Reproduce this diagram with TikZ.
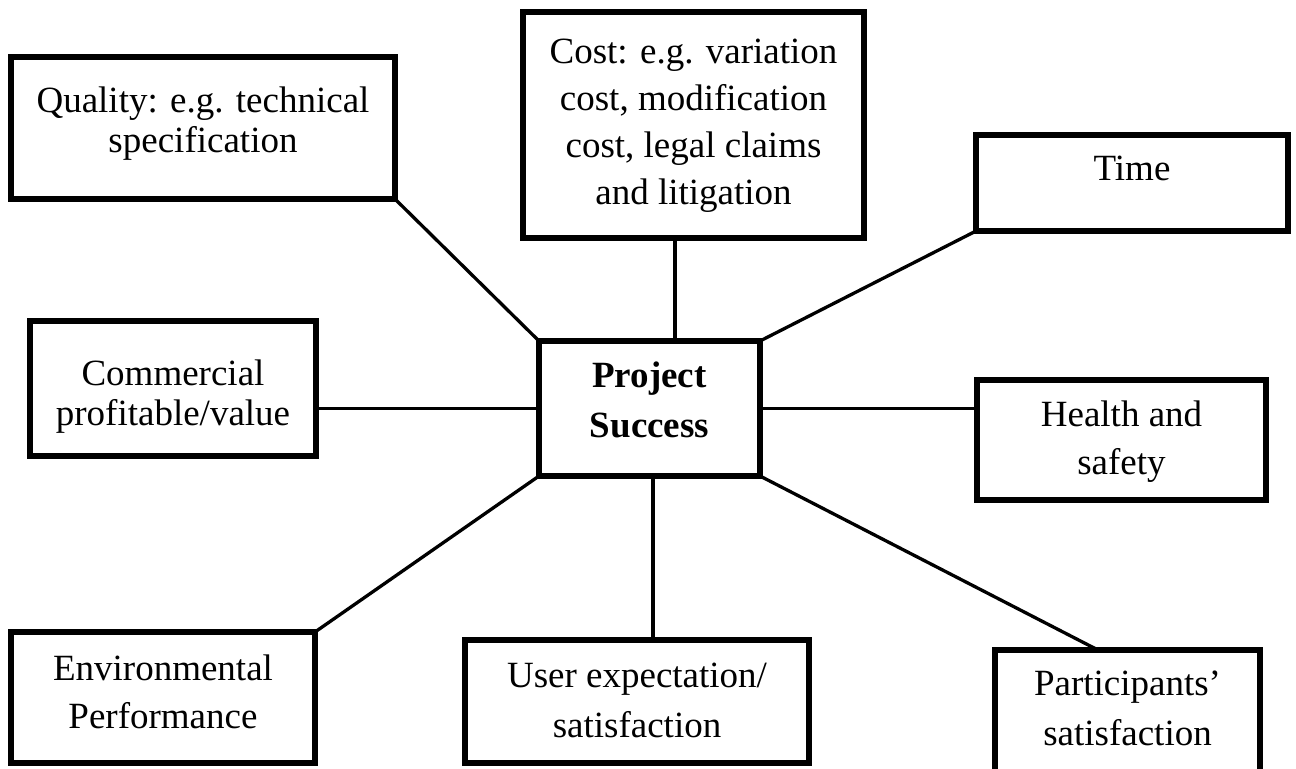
\documentclass[tikz,border=0pt]{standalone}
\usepackage{fontspec}
\setmainfont{Liberation Serif}
\usepackage{tikz}
\tikzset{
  box/.style={draw,line width=3pt,inner sep=0pt,outer sep=0pt,align=flush center,text height=14pt},
  link/.style={line width=1.65pt}
}
\newcommand{\boxfont}[1]{\fontsize{18.5}{#1}\selectfont}
\begin{document}
\begin{tikzpicture}[x=0.5pt,y=-0.5pt]
\path[use as bounding box] (0,0) rectangle (1296,768);
\clip (0,0) rectangle (1296,768);
\node[box,minimum width=192pt,minimum height=71pt,text width=184pt,text depth=30pt,font=\boxfont{20}] (qual) at (203,128) {Quality: e.g. technical\\specification};
\node[box,minimum width=170.5pt,minimum height=113pt,text width=162pt,text depth=76pt,font=\boxfont{23.5}] (cost) at (693.5,125) {Cost: e.g. variation\\cost, modification\\cost, legal claims\\and litigation};
\node[box,minimum width=156pt,minimum height=48.25pt,text width=148pt,text depth=16.75pt,font=\boxfont{22}] (time) at (1132,182.75) {Time};
\node[box,minimum width=143pt,minimum height=67.5pt,text width=135pt,text depth=17.5pt,font=\boxfont{20}] (comm) at (173,388.5) {Commercial\\profitable/value};
\node[box,minimum width=110.5pt,minimum height=67.5pt,text width=102pt,text depth=35.5pt,font=\boxfont{25}\bfseries] (ps) at (649.5,408.5) {Project\\Success};
\node[box,minimum width=144.5pt,minimum height=60pt,text width=136pt,text depth=28pt,font=\boxfont{24}] (hs) at (1121.5,440) {Health and\\safety};
\node[box,minimum width=152pt,minimum height=65.5pt,text width=144pt,text depth=31.5pt,font=\boxfont{24}] (env) at (163,697.5) {Environmental\\Performance};
\node[box,minimum width=172pt,minimum height=61.5pt,text width=164pt,text depth=28.5pt,font=\boxfont{25}] (user) at (637,701.5) {User expectation/\\satisfaction};
\node[box,minimum width=132.5pt,minimum height=66pt,text width=124pt,text depth=35pt,font=\boxfont{25}] (part) at (1127.5,716) {Participants’\\satisfaction};
\draw[link] (qual.south east) -- (ps.north west);
\draw[link] ([xshift=12.75pt]ps.north) -- ([xshift=12.75pt]ps.north |- cost.south);
\draw[link] (time.south west) -- (ps.north east);
\draw[link] (ps.west) -- (ps.west -| comm.east);
\draw[link] (ps.east) -- (ps.east -| hs.west);
\draw[link] (env.north east) -- (ps.south west);
\draw[link] ([xshift=1.75pt]ps.south) -- ([xshift=1.75pt]ps.south |- user.north);
\draw[link] (ps.south east) -- ([xshift=-14.75pt]part.north);
\end{tikzpicture}
\end{document}
